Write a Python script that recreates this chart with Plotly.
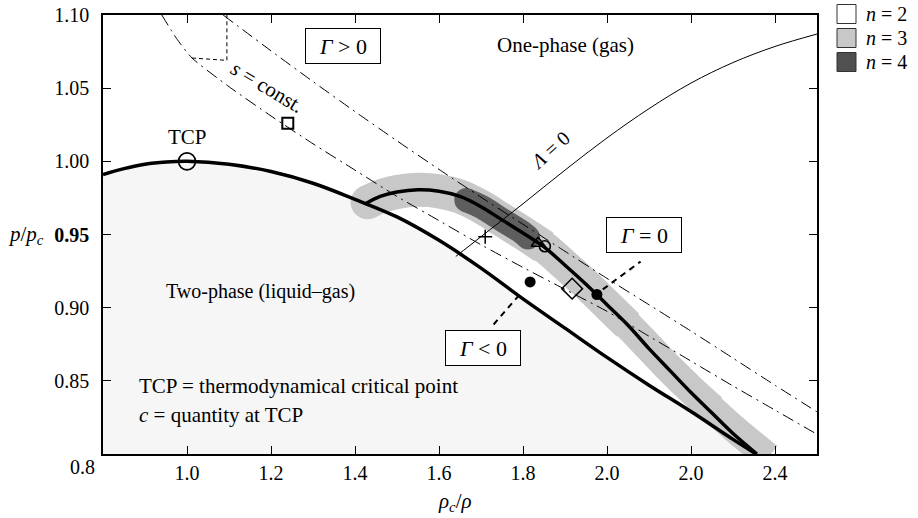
import plotly.graph_objects as go

# ---------------- data ----------------
# coexistence curve (boundary of two-phase region)
coex_x = [0.80, 0.85, 0.90, 0.95, 1.00, 1.10, 1.20, 1.30, 1.40, 1.50, 1.60, 1.70, 1.80, 1.90, 2.00, 2.10, 2.20, 2.30, 2.355]
coex_y = [0.991, 0.995, 0.998, 0.9995, 1.000, 0.998, 0.993, 0.985, 0.974, 0.962, 0.946, 0.927, 0.906, 0.886, 0.866, 0.847, 0.829, 0.810, 0.800]

# Gamma = 0 curve
g0_x = [1.425, 1.46, 1.50, 1.55, 1.60, 1.65, 1.70, 1.75, 1.80, 1.85, 1.90, 1.95, 2.00, 2.05, 2.10, 2.15, 2.20, 2.25, 2.30, 2.357]
g0_y = [0.971, 0.976, 0.979, 0.9805, 0.9795, 0.976, 0.969, 0.960, 0.951, 0.9415, 0.929, 0.916, 0.902, 0.888, 0.872, 0.857, 0.842, 0.828, 0.814, 0.800]

# n = 3 band (centre line)
n3_x = [1.43, 1.46, 1.50, 1.55, 1.60, 1.65, 1.70, 1.75, 1.80, 1.85, 1.90, 1.95, 2.00, 2.05, 2.10, 2.15, 2.20, 2.25, 2.30, 2.35, 2.385]
n3_y = [0.972, 0.976, 0.979, 0.9805, 0.9795, 0.976, 0.969, 0.960, 0.951, 0.9415, 0.929, 0.916, 0.902, 0.888, 0.873, 0.858, 0.844, 0.831, 0.818, 0.806, 0.798]
# band thickness (px) per stretch: (first index, last index, width)
n3_widths = [(0, 9, 34), (8, 13, 32), (12, 17, 30), (16, 20, 28)]

# n = 4 band (centre line)
n4_x = [1.665, 1.70, 1.75, 1.80, 1.812]
n4_y = [0.9735, 0.969, 0.960, 0.951, 0.948]

# Lambda = 0 line
lam_x = [1.64, 1.70, 1.80, 1.90, 2.00, 2.10, 2.20, 2.30, 2.40, 2.50]
lam_y = [0.935, 0.9485, 0.971, 0.994, 1.016, 1.036, 1.0535, 1.0675, 1.0785, 1.087]

# isentropes (dash-dot)
isA_x = [0.94, 0.975, 1.012, 1.10, 1.20, 1.30, 1.40, 1.50, 1.60, 1.70, 1.80, 1.90, 2.00, 2.10, 2.20, 2.30, 2.40, 2.50]
isA_y = [1.100, 1.084, 1.0706, 1.051, 1.031, 1.012, 0.994, 0.976, 0.9595, 0.943, 0.9275, 0.9125, 0.8975, 0.8805, 0.8635, 0.8465, 0.830, 0.8135]
isB_x = [1.086, 1.20, 1.30, 1.40, 1.50, 1.60, 1.70, 1.80, 1.90, 2.00, 2.10, 2.20, 2.30, 2.40, 2.50]
isB_y = [1.100, 1.0755, 1.0545, 1.034, 1.014, 0.9945, 0.9755, 0.957, 0.9385, 0.920, 0.902, 0.884, 0.8655, 0.847, 0.8288]

# dashed construction near top
dsh_x = [1.012, 1.095, 1.095]
dsh_y = [1.0706, 1.069, 1.100]

# leader lines
lead1_x = [1.73, 1.795]
lead1_y = [0.8885, 0.910]
lead2_x = [1.99, 2.08]
lead2_y = [0.9125, 0.9315]

# markers
tcp_x, tcp_y = [1.0], [1.0]
sq_x, sq_y = [1.24], [1.026]
tri_x, tri_y = [1.836], [0.944]
oc_x, oc_y = [1.852], [0.942]
dot_x, dot_y = [1.817, 1.976], [0.9176, 0.909]
dia_x, dia_y = [1.917], [0.913]
plus_x, plus_y = [1.710], [0.9484]

x_ticks = [0.8, 1.0, 1.2, 1.4, 1.6, 1.8, 2.0, 2.2, 2.4]
x_ticktext = ["", "1.0", "1.2", "1.4", "1.6", "1.8", "2.0", "2.0", "2.4"]
y_ticks = [0.80, 0.85, 0.90, 0.95, 1.00, 1.05, 1.10]
y_ticktext = ["", "0.85", "0.90", "<b>0.95</b>", "1.00", "1.05", "1.10"]

legend_names = ["<i>n</i> = 2", "<i>n</i> = 3", "<i>n</i> = 4"]
legend_colors = ["#ffffff", "#c8c8c8", "#505050"]

FONT = "Liberation Serif, Times New Roman, serif"
BAND3 = "#c8c8c8"
BAND4 = "#5e5e5e"

fig = go.Figure()

def line(xs, ys, color="black", width=1, dash=None, shape="linear", smoothing=1.0):
    fig.add_trace(go.Scatter(x=xs, y=ys, mode="lines",
                             line=dict(color=color, width=width, dash=dash, shape=shape, smoothing=smoothing),
                             showlegend=False, hoverinfo="skip"))

# two-phase region
fig.add_trace(go.Scatter(x=coex_x, y=coex_y, mode="lines", fill="tozeroy",
                         fillcolor="#f6f6f6", line=dict(color="rgba(0,0,0,0)", width=0, shape="spline"),
                         showlegend=False, hoverinfo="skip"))
# n=3 band: slightly tapering toward the bottom
for i0, i1, w in n3_widths:
    line(n3_x[i0:i1 + 1], n3_y[i0:i1 + 1], BAND3, w, shape="spline")
fig.add_trace(go.Scatter(x=n3_x[:1], y=n3_y[:1], mode="markers",
                         marker=dict(color=BAND3, size=n3_widths[0][2], line=dict(width=0)),
                         showlegend=False, hoverinfo="skip"))
# n=4 band
line(n4_x, n4_y, BAND4, 24, shape="spline")
fig.add_trace(go.Scatter(x=[n4_x[0], n4_x[-1]], y=[n4_y[0], n4_y[-1]], mode="markers",
                         marker=dict(color=BAND4, size=24, line=dict(width=0)),
                         showlegend=False, hoverinfo="skip"))

# isentropes
line(isA_x, isA_y, dash="12px,5px,2px,5px", shape="spline", smoothing=0.6)
line(isB_x, isB_y, dash="12px,5px,2px,5px", shape="spline", smoothing=0.6)
line(dsh_x, dsh_y, dash="4px,3px")
# Lambda = 0
line(lam_x, lam_y, shape="spline")
# leaders
line(lead1_x, lead1_y, width=2, dash="6px,5px")
line(lead2_x, lead2_y, width=2, dash="6px,5px")
# thick curves
line(coex_x, coex_y, width=3.5, shape="spline")
line(g0_x, g0_y, width=3.5, shape="spline")

# markers (open symbols take their stroke colour from marker.color)
def mk(x, y, symbol, size, lw=1.5):
    fig.add_trace(go.Scatter(x=x, y=y, mode="markers",
                             marker=dict(symbol=symbol, size=size, color="black", line=dict(color="black", width=lw)),
                             showlegend=False, hoverinfo="skip", cliponaxis=False))

mk(tcp_x, tcp_y, "circle-open", 17, lw=1.6)
mk(sq_x, sq_y, "square-open", 11, lw=2)
mk(tri_x, tri_y, "triangle-up-open", 12, lw=1.5)
mk(oc_x, oc_y, "circle-open", 11, lw=1.6)
mk(dot_x, dot_y, "circle", 11, lw=0)
mk(dia_x, dia_y, "diamond-open", 16, lw=1.5)
mk(plus_x, plus_y, "cross-thin-open", 10, lw=1.5)

ann = [
    dict(x=1.0, y=1.0165, text="TCP", font_size=21),
    dict(x=1.90, y=1.0795, text="One-phase (gas)", font_size=21),
    dict(x=1.371, y=1.0785, text="<i>Γ</i> > 0", font_size=22, bordercolor="black", borderwidth=1, borderpad=5,
         bgcolor="white", width=64, height=24),
    dict(x=2.088, y=0.9497, text="<i>Γ</i> = 0", font_size=22, bordercolor="black", borderwidth=1, borderpad=5,
         bgcolor="white", width=64, height=24),
    dict(x=1.705, y=0.8725, text="<i>Γ</i> < 0", font_size=22, bordercolor="black", borderwidth=1, borderpad=5,
         bgcolor="white", width=64, height=24),
    dict(x=1.174, y=0.911, text="Two-phase (liquid–gas)", font_size=20),
    dict(x=0.881, y=0.8466, text="TCP = thermodynamical critical point", font_size=21, xanchor="left"),
    dict(x=0.881, y=0.8267, text="<i>c</i> = quantity at TCP", font_size=21, xanchor="left"),
    dict(x=1.19, y=1.0505, text="<i>s</i> = const.", font_size=21, textangle=31),
    dict(x=1.864, y=1.0078, text="<i>Λ</i> = 0", font_size=20, textangle=-42),
]
annotations = []
for a in ann:
    d = dict(xref="x", yref="y", showarrow=False, font=dict(family=FONT, color="black", size=a.pop("font_size")))
    d.update(a)
    annotations.append(d)

# axis extras
annotations.append(dict(xref="paper", yref="paper", x=-0.029, y=-0.03, text="0.8", showarrow=False,
                        xanchor="center", yanchor="middle", font=dict(family=FONT, size=20, color="black")))
annotations.append(dict(xref="paper", yref="paper", x=-0.108, y=0.5, text="<i>p</i>/<i>p<sub>c</sub></i>", showarrow=False,
                        xanchor="center", yanchor="middle", font=dict(family=FONT, size=21, color="black")))
annotations.append(dict(xref="paper", yref="paper", x=0.493, y=-0.11, text="<i>ρ<sub>c</sub></i>/<i>ρ</i>", showarrow=False,
                        xanchor="center", yanchor="middle", font=dict(family=FONT, size=21, color="black")))

# legend drawn as swatches + labels
PLOT_W, PLOT_H = 714, 439
shapes = []
for i, (name, col) in enumerate(zip(legend_names, legend_colors)):
    cy = 14 + 24 * i
    shapes.append(dict(type="rect", xref="paper", yref="paper",
                       x0=(837 - 103) / PLOT_W, x1=(856 - 103) / PLOT_W,
                       y0=(454 - (cy + 9.5)) / PLOT_H, y1=(454 - (cy - 9.5)) / PLOT_H,
                       fillcolor=col, line=dict(color="#333", width=1)))
    annotations.append(dict(xref="paper", yref="paper", x=(864 - 103) / PLOT_W, y=(454 - cy) / PLOT_H,
                            text=name, showarrow=False, xanchor="left", yanchor="middle",
                            font=dict(family=FONT, size=20, color="black")))

fig.update_layout(
    width=918, height=518,
    margin=dict(l=103, r=101, t=15, b=64, autoexpand=False),
    plot_bgcolor="white", paper_bgcolor="white",
    font=dict(family=FONT, size=20, color="black"),
    annotations=annotations, shapes=shapes,
    showlegend=False,
)
fig.update_xaxes(range=[0.8, 2.5], tickvals=x_ticks, ticktext=x_ticktext, ticks="inside", ticklen=8,
                 tickcolor="black", showline=True, linecolor="black", linewidth=1.5, mirror="ticks",
                 showgrid=False, zeroline=False, tickfont=dict(family=FONT, size=20))
fig.update_yaxes(range=[0.80, 1.10], tickvals=y_ticks, ticktext=y_ticktext, ticks="inside", ticklen=8,
                 tickcolor="black", showline=True, linecolor="black", linewidth=1.5, mirror="ticks",
                 showgrid=False, zeroline=False, tickfont=dict(family=FONT, size=20), ticklabelstandoff=8)

fig.write_html("out.html")
